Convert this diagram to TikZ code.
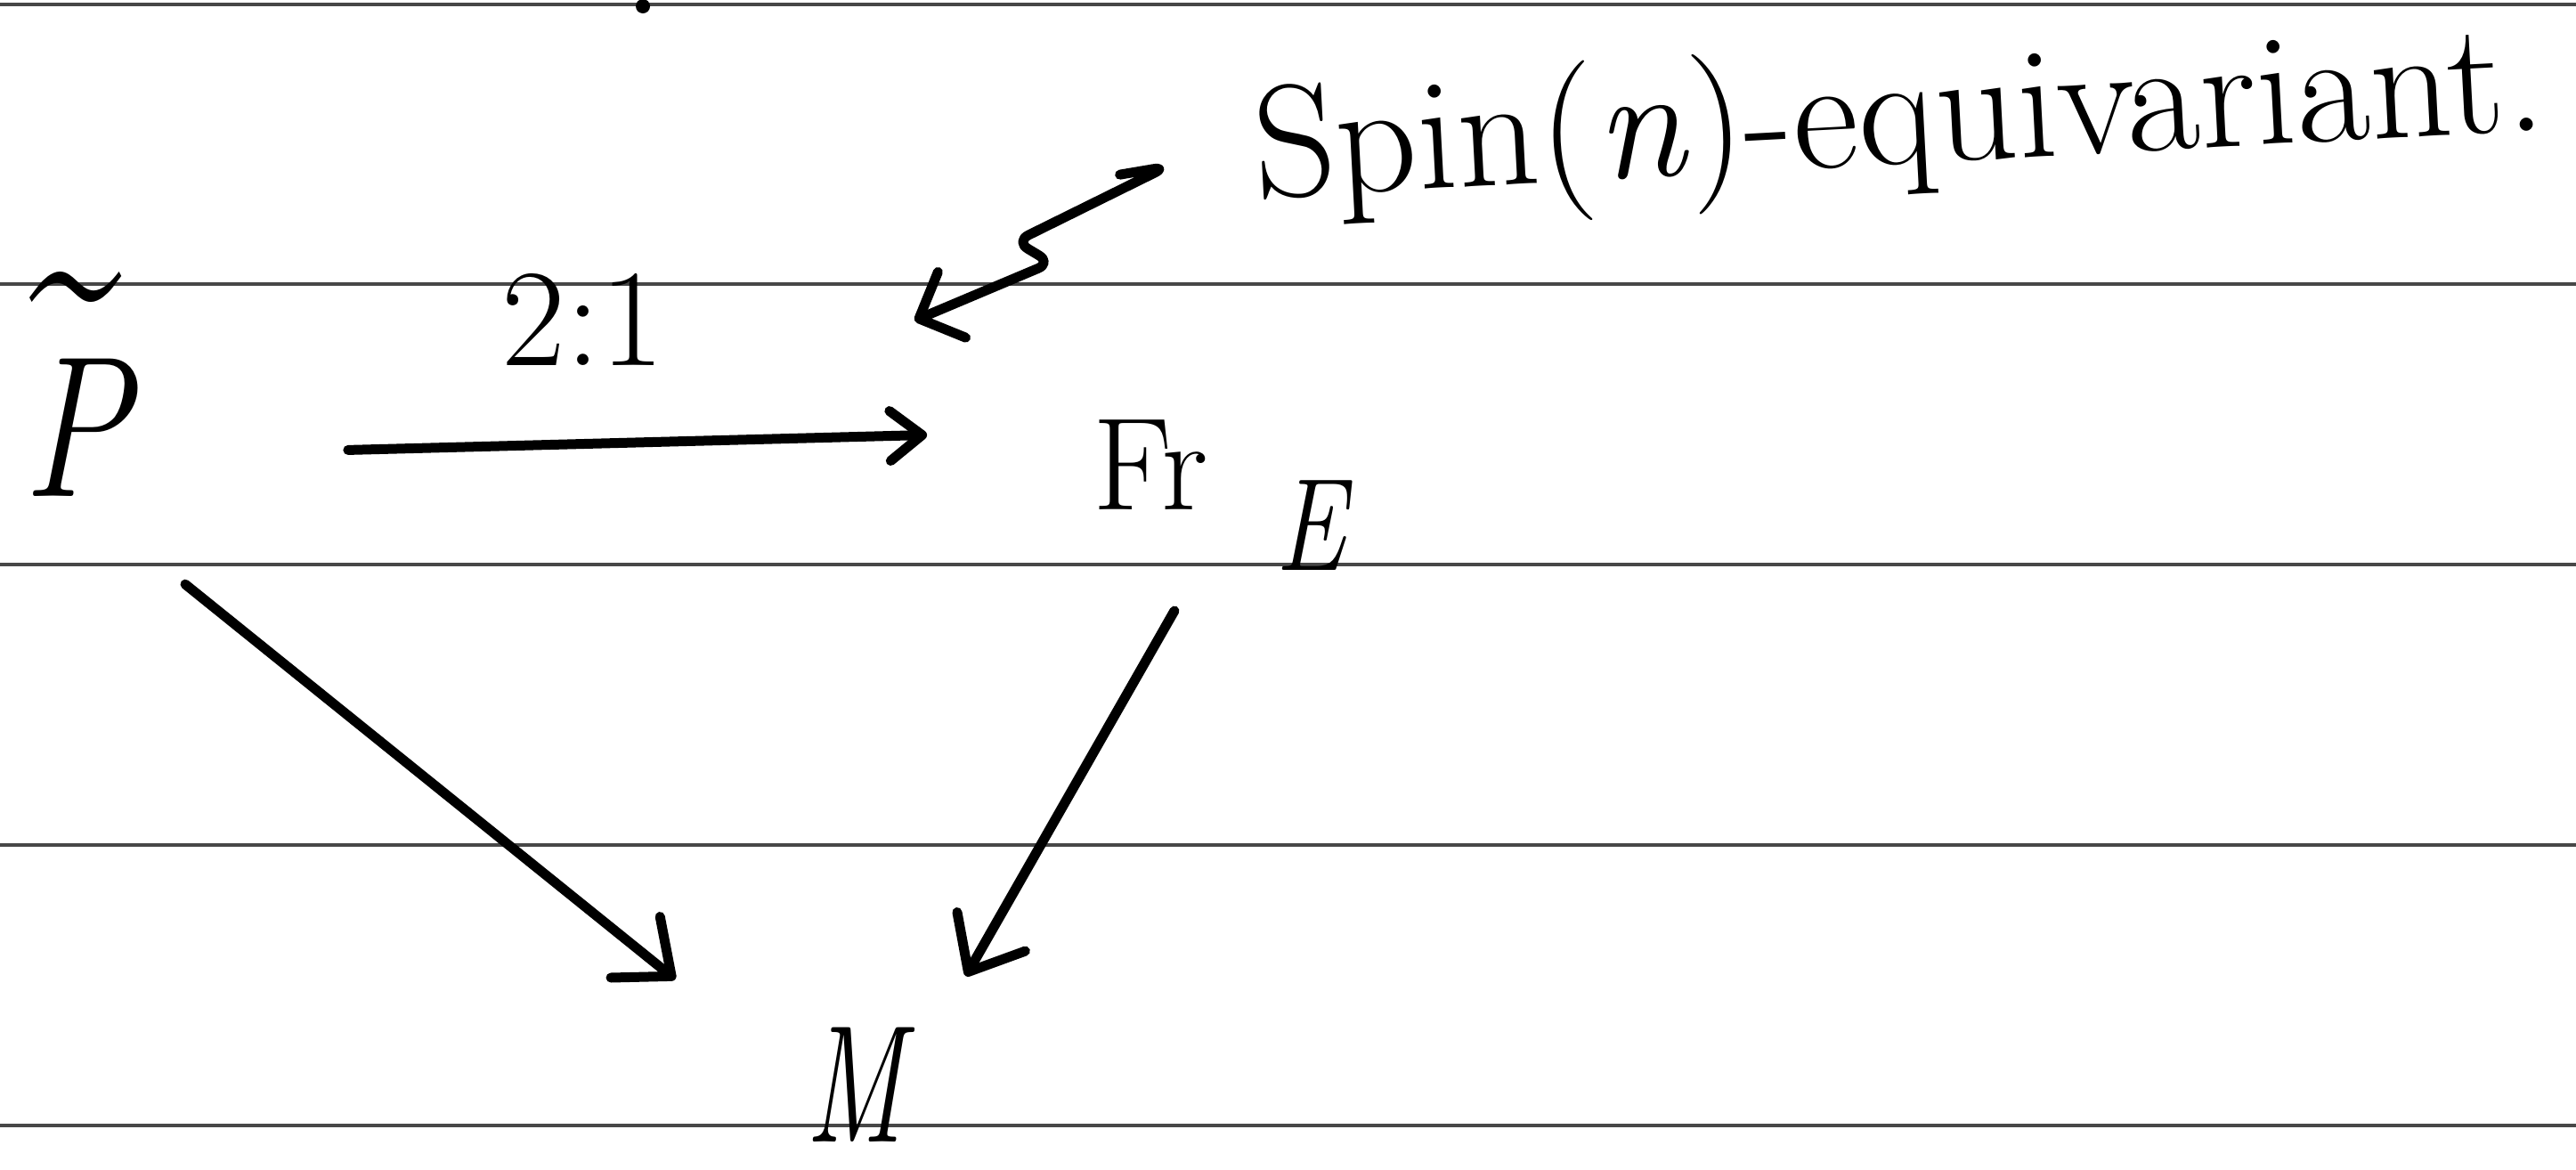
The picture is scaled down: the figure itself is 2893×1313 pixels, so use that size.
\documentclass[tikz,border=0pt]{standalone}
\usepackage{fontspec}
\usepackage{graphicx}
\usetikzlibrary{arrows.meta}
\tikzset{
  rule/.style={draw=black!72, line width=1.6pt},
  conn/.style={draw=black, line width=5.5pt, line cap=round, line join=round},
  bigtip/.style={-{Straight Barb[round, length=26pt, width=44pt]}},
  smalltip/.style={-{Straight Barb[round, length=18pt, width=28pt]}},
  spintip/.style={-{Straight Barb[round, length=20pt, width=40pt]}},
  hw/.style={inner sep=0pt, outer sep=0pt, text=black}
}
\newcommand{\tildeP}{\ooalign{\scalebox{0.8}[1]{\itshape P}\cr
  \hidewidth\raisebox{80pt}[0pt][0pt]{\fontsize{150}{170}\selectfont\scalebox{0.62}[1]{\textasciitilde}}\hidewidth\cr}}
\begin{document}
\begin{tikzpicture}[x=0.5pt, y=-0.5pt]
  \fill[white] (0,0) rectangle (2893,1313);
  \useasboundingbox (0,0) rectangle (2893,1313);
  % ruled lines
  \foreach \yy in {5,319,634,949,1264}
    \draw[rule] (0,\yy) -- (2893,\yy);
  % small ink dot at top
  \fill[black] (722,7) circle[radius=4pt];

  % nodes
  \node[hw, anchor=base, font=\fontsize{113}{130}\selectfont] (P) at (85,557) {\tildeP};
  \node[hw, anchor=base, font=\fontsize{78}{90}\selectfont] (ratio) at (655,410) {2:1};
  \node[hw, anchor=base west, font=\fontsize{74}{88}\selectfont] (Fr) at (1227,572)
    {Fr\hspace{38pt}\raisebox{-34pt}{\scalebox{0.8}[1]{\itshape E}}};
  \node[hw, anchor=base, font=\fontsize{94}{112}\selectfont] (M) at (960,1282) {\scalebox{0.67}[1]{\itshape M}};
  \node[hw, anchor=base west, rotate=3, font=\fontsize{90}{108}\selectfont] (Spin) at (1411,222)
    {Spin(\textit{n})-equivariant.};
  \coordinate (tip) at (1027,360);

  % connectors
  \draw[conn, smalltip, shorten <=123pt, shorten >=93pt]
    ([yshift=-16pt]P.east) -- ([yshift=36pt]Fr.west);
  \draw[conn, bigtip, shorten <=79pt, shorten >=94pt]
    (P.south) -- (M.west);
  \draw[conn, bigtip, shorten <=26.5pt, shorten >=70pt]
    ([xshift=-12pt]Fr.south) -- (M.east);
  \draw[conn, spintip, rounded corners=8pt]
    ([xshift=-75.5pt, yshift=-9.5pt]Spin.west) -- ++(53,-9) -- ++(-170,84) -- ++(40,24) -- (tip);
\end{tikzpicture}
\end{document}
